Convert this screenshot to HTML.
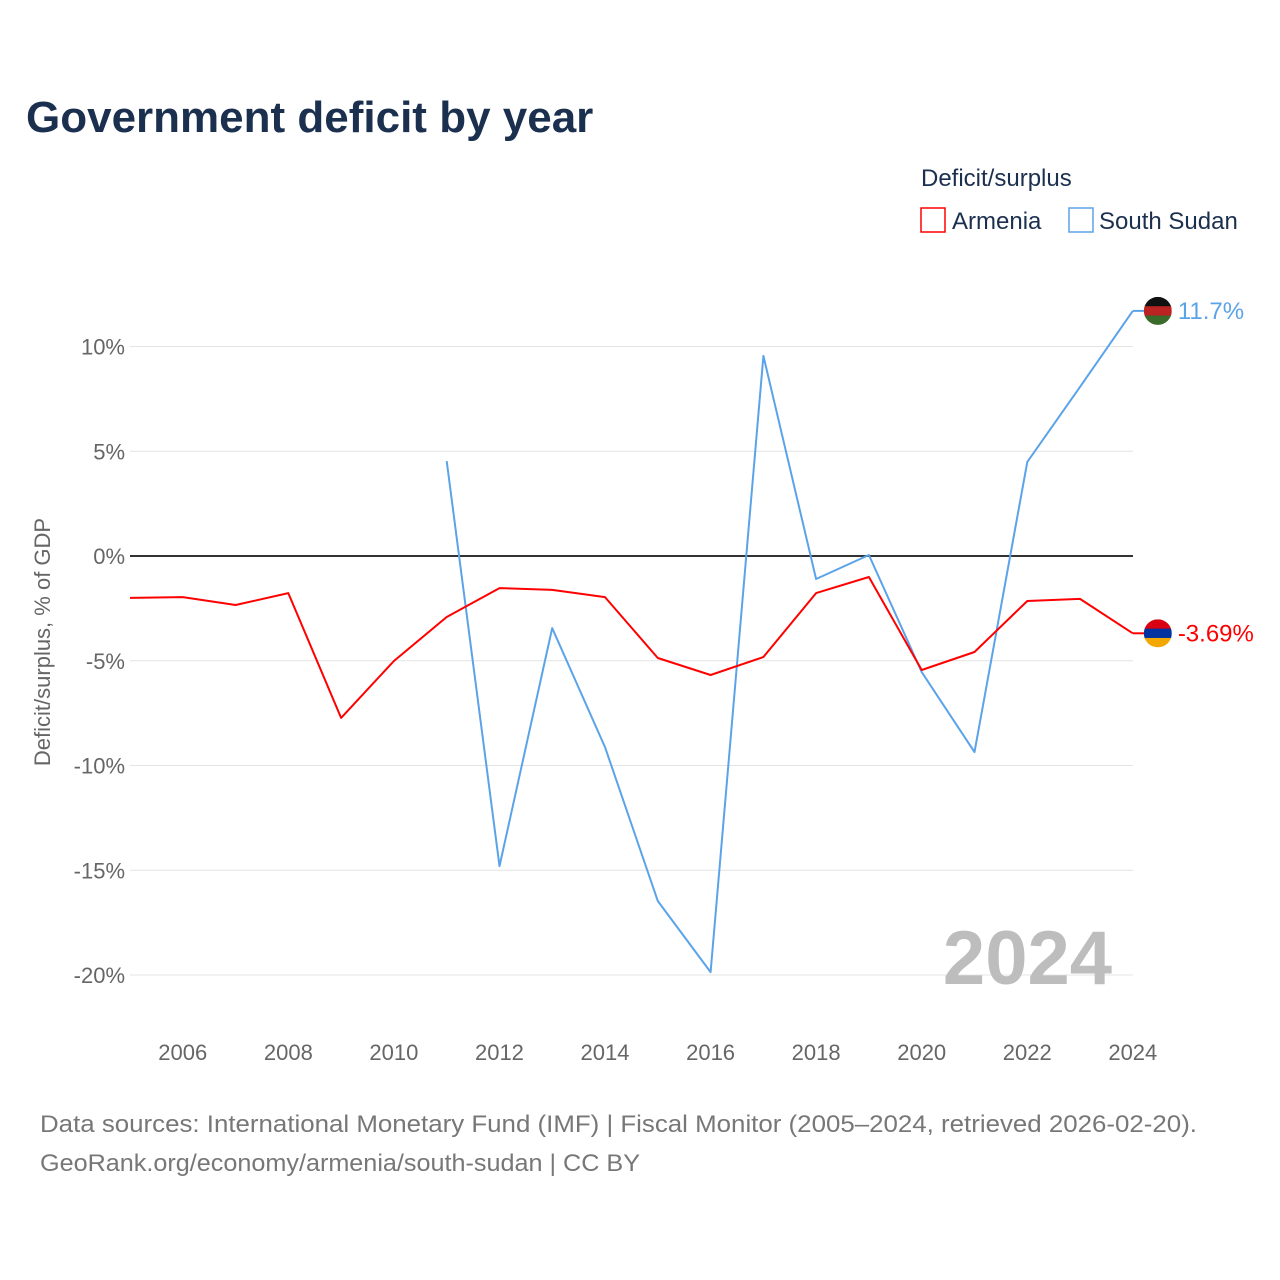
<!DOCTYPE html>
<html><head><meta charset="utf-8">
<style>
body{margin:0;background:#fff;font-family:"Liberation Sans",sans-serif;}
#wrap{position:relative;width:1280px;height:1280px;overflow:hidden;}
</style></head>
<body>
<div id="wrap">
<svg id="chart" width="1280" height="1280" xmlns="http://www.w3.org/2000/svg">
<text x="26" y="132" font-size="44" font-weight="bold" fill="#1b2f4f">Government deficit by year</text>
<text x="921" y="186" font-size="24" fill="#1b2f4f">Deficit/surplus</text>
<g><rect x="921" y="208" width="24" height="24" fill="none" stroke="#ff0000" stroke-width="1.5"/><text x="952" y="229" font-size="24" fill="#1b2f4f">Armenia</text></g>
<g><rect x="1069" y="208" width="24" height="24" fill="none" stroke="#5ba3e8" stroke-width="1.5"/><text x="1099" y="229" font-size="24" fill="#1b2f4f">South Sudan</text></g>
<g id="grid"></g>
<g id="xt"></g>
<text transform="translate(50,642) rotate(-90)" text-anchor="middle" font-size="22" fill="#666">Deficit/surplus, % of GDP</text>
<text x="1112" y="984" text-anchor="end" font-size="76" font-weight="bold" fill="#bdbdbd">2024</text>
<g id="series"></g>
<text x="40" y="1132" font-size="24" fill="#777" textLength="1157" lengthAdjust="spacingAndGlyphs">Data sources: International Monetary Fund (IMF) | Fiscal Monitor (2005–2024, retrieved 2026-02-20).</text>
<text x="40" y="1171" font-size="24" fill="#777" textLength="600" lengthAdjust="spacingAndGlyphs">GeoRank.org/economy/armenia/south-sudan | CC BY</text>
</svg>
</div>
<script>
const years=[2005,2006,2007,2008,2009,2010,2011,2012,2013,2014,2015,2016,2017,2018,2019,2020,2021,2022,2023,2024];
const armenia=[-2.0,-1.96,-2.34,-1.77,-7.73,-5.01,-2.91,-1.53,-1.62,-1.96,-4.87,-5.68,-4.82,-1.77,-1.0,-5.44,-4.58,-2.15,-2.05,-3.69];
const southSudan=[null,null,null,null,null,null,4.53,-14.8,-3.44,-9.12,-16.47,-19.86,9.55,-1.1,0.05,-5.54,-9.36,4.49,8.07,11.7];
const yTicks=[10,5,0,-5,-10,-15,-20];
const xTicks=[2006,2008,2010,2012,2014,2016,2018,2020,2022,2024];
const NS="http://www.w3.org/2000/svg";
const X=v=>130+(v-2005)*52.78;
const Y=v=>556-v*20.95;
function mk(t,a,p){const e=document.createElementNS(NS,t);for(const k in a)e.setAttribute(k,a[k]);p.appendChild(e);return e;}
const grid=document.getElementById('grid');
yTicks.forEach(t=>{
  const l=mk('line',{x1:130,x2:1133,y1:Y(t),y2:Y(t),stroke:t===0?'#333':'#e4e4e4','stroke-width':t===0?2:1},grid);
  
  
  const tx=mk('text',{x:125,y:Y(t)+8,'text-anchor':'end','font-size':22,fill:'#666'},grid);
  tx.textContent=t+'%';
  
  
});
const xt=document.getElementById('xt');
xTicks.forEach(t=>{
  const tx=mk('text',{x:X(t),y:1060,'text-anchor':'middle','font-size':22,fill:'#666'},xt);
  tx.textContent=t;
  
  
});
const sg=document.getElementById('series');
function line(vals,color,name){
  let d='';let pen=false;
  vals.forEach((v,i)=>{if(v===null){pen=false;return;}d+=(pen?'L':'M')+X(years[i]).toFixed(1)+','+Y(v).toFixed(1);pen=true;});
  const p=mk('path',{d:d,fill:'none',stroke:color,'stroke-width':2,'stroke-linejoin':'round'},sg);
  
  
}
line(southSudan,'#5ba3e8','south-sudan-line');
line(armenia,'#ff0000','armenia-line');
function endLabel(v,color,label,name,flag){
  const x=X(2024),y=Y(v);
  mk('line',{x1:x,x2:x+12,y1:y,y2:y,stroke:color,'stroke-width':2},sg);
  const g=mk('g',{},sg);
  
  
  const cx=x+25,r=14;
  const cp=mk('clipPath',{id:name+'clip'},g);mk('circle',{cx:cx,cy:y,r:r},cp);
  flag.forEach((c,i)=>mk('rect',{x:cx-r,y:y-r+i*(2*r/flag.length),width:2*r,height:2*r/flag.length+0.5,fill:c,'clip-path':'url(#'+name+'clip)'},g));
  const t=mk('text',{x:x+45,y:y+8,'font-size':24,fill:color},sg);
  t.textContent=label;
  
  
}
endLabel(southSudan[19],'#5ba3e8','11.7%','south-sudan',['#111','#b22','#3a6b2a']);
endLabel(armenia[19],'#ff0000','-3.69%','armenia',['#d90012','#0033a0','#f2a800']);
</script>
</body></html>
